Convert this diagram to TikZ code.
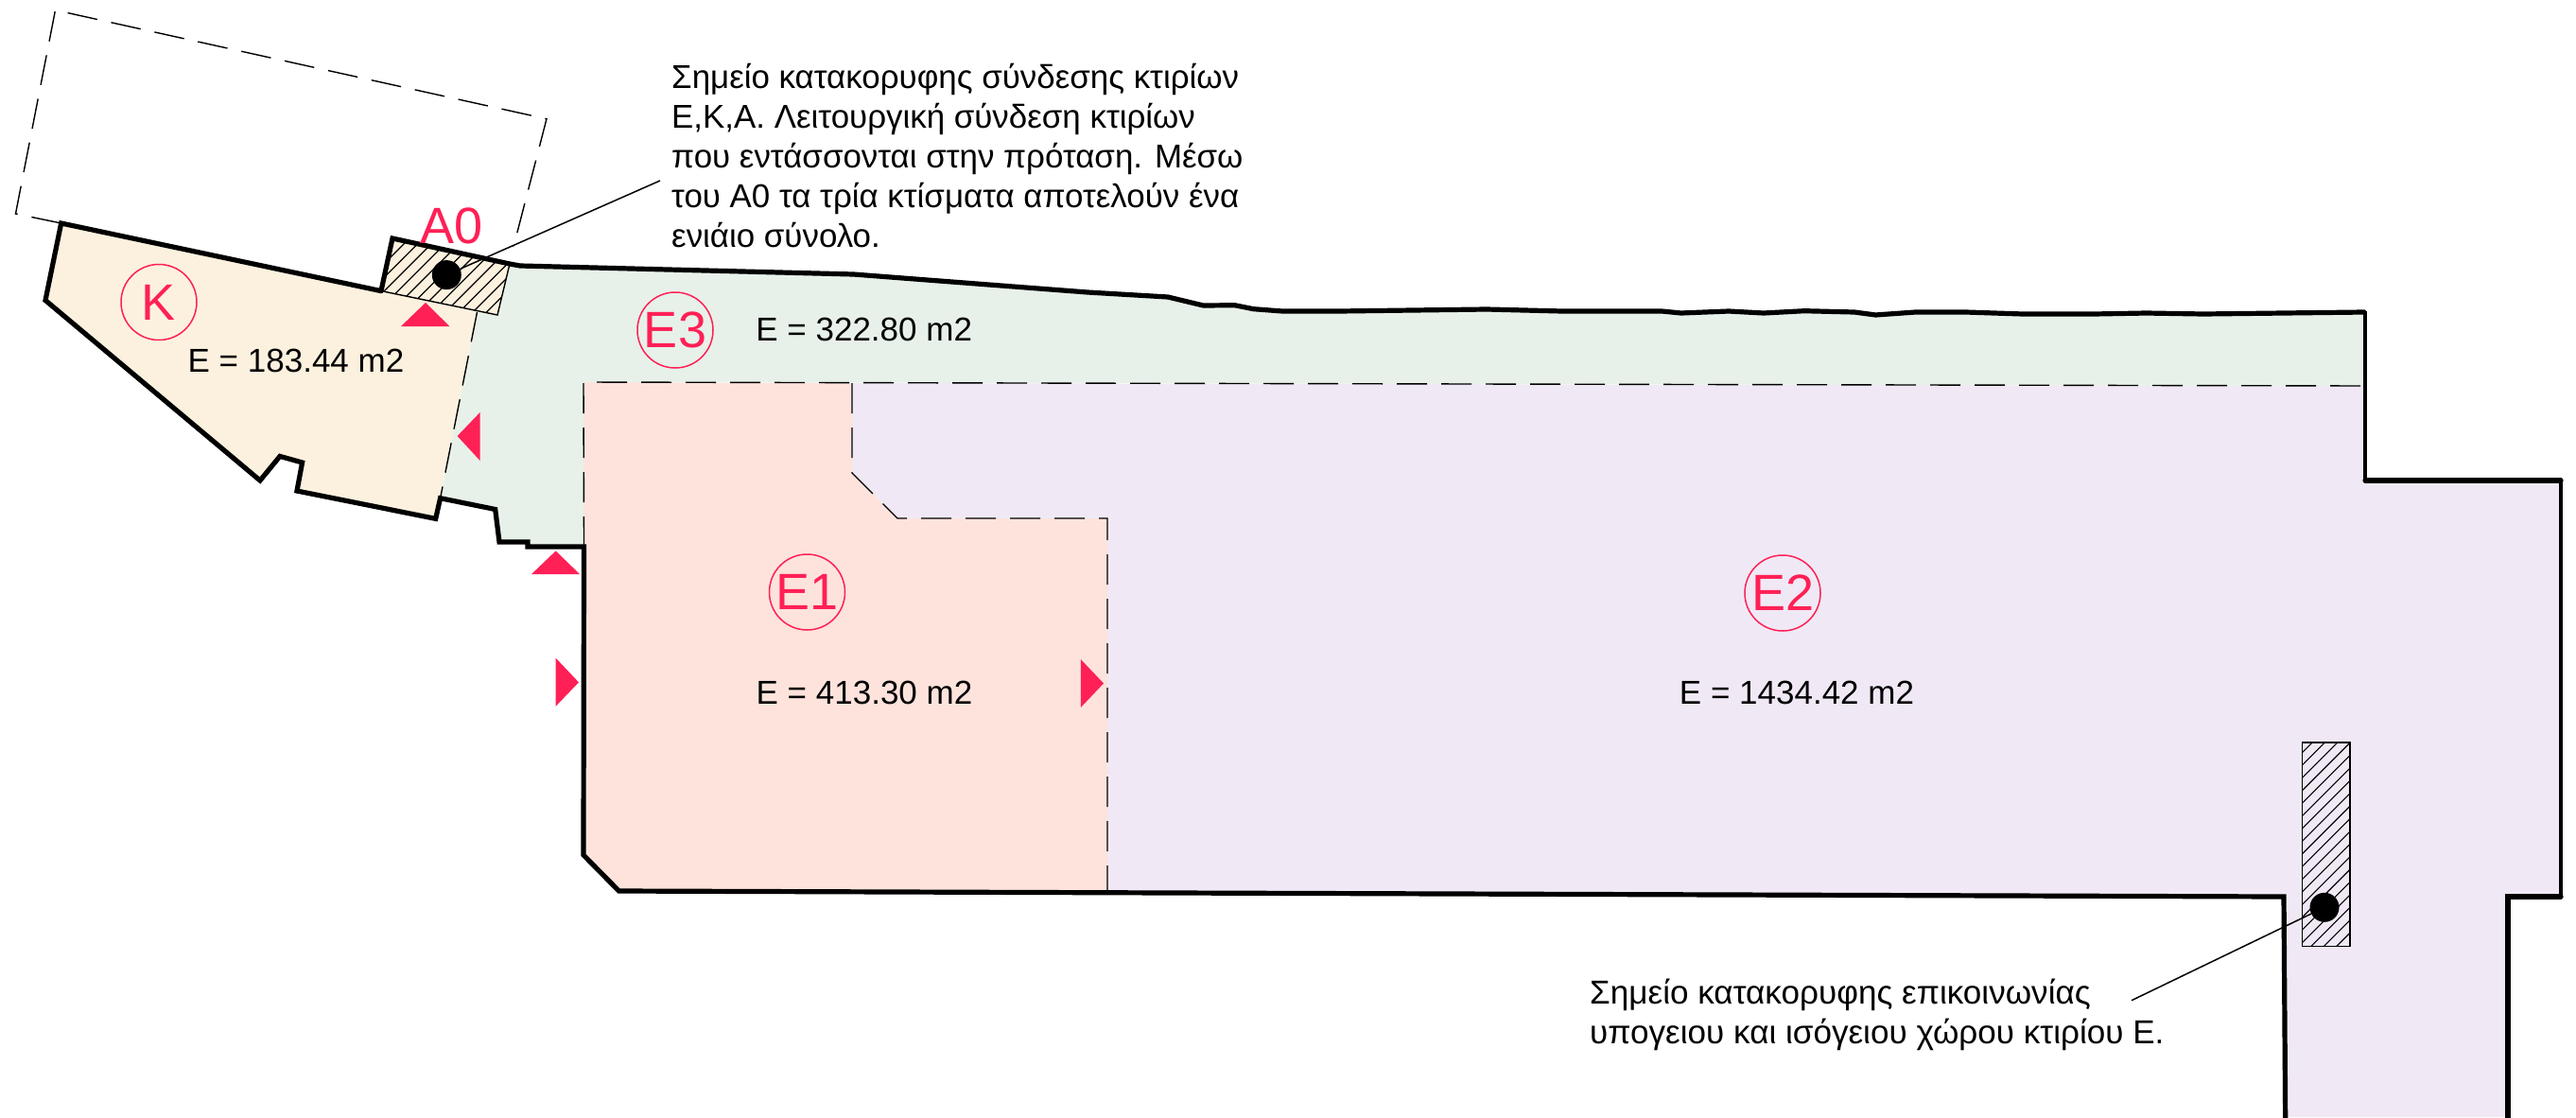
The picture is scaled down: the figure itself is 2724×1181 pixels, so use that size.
\documentclass[tikz,border=0pt]{standalone}
\usepackage{fontspec}
\setmainfont{Liberation Sans}
\definecolor{kfill}{HTML}{FCF1DF}
\definecolor{gfill}{HTML}{E7F1E9}
\definecolor{pfill}{HTML}{FDE3DC}
\definecolor{lfill}{HTML}{F0E9F5}
\definecolor{redm}{HTML}{FF2056}
\tikzset{
  wall/.style={line width=5.2pt,line join=miter,line cap=round},
  wallthin/.style={line width=3.8pt},
  dashb/.style={line width=1.4pt,dash pattern=on 32pt off 15pt},
  thinl/.style={line width=1.4pt},
  tri/.style={fill=redm,draw=none},
  zonecirc/.style={circle,draw=redm,line width=1.5pt,minimum size=80pt,inner sep=0pt,text=redm,font=\fontsize{54}{54}\selectfont},
  redlab/.style={text=redm,inner sep=0pt,font=\fontsize{54}{54}\selectfont},
  area/.style={inner sep=0pt,font=\fontsize{35}{35}\selectfont},
  note/.style={inner sep=0pt,align=left,font=\fontsize{35.1}{42}\selectfont},
  noteb/.style={inner sep=0pt,align=left,font=\fontsize{34.9}{42}\selectfont},
  blackdot/.style={circle,fill=black,minimum size=31pt,inner sep=0pt},
}
\begin{document}
\begin{tikzpicture}[x=1pt,y=-1pt]
\useasboundingbox (0,0) rectangle (2724,1181);
% fills
\fill[lfill] (901,405) -- (2501,408) -- (2501,508) -- (2708,508) -- (2708,948) -- (2652,948) -- (2652,1181) -- (2416,1181) -- (2415,948) -- (1171,942) -- (1171,548) -- (949,548) -- (901,500) -- cycle;
\fill[pfill] (617,404) -- (901,405) -- (901,500) -- (949,548) -- (1171,548) -- (1171,942) -- (654.5,942) -- (617,904) -- cycle;
\fill[gfill] (504.5,330) -- (526,333) -- (539,279) -- (550,281) -- (902.5,290) -- (1150,309) -- (1235,314) -- (1272.5,323) -- (1305.6,322.7) -- (1325.7,326.7) -- (1356,329) -- (2500,330) -- (2501,408) -- (617,404) -- (617,578) -- (558,578) -- (558,573) -- (528,573) -- (523.7,538.5) -- (465.6,526.7) -- cycle;
\fill[kfill] (64.7,236) -- (403,307.6) -- (526,333) -- (504.5,330) -- (465.6,526.7) -- (460.7,548.4) -- (314,519) -- (319.6,489) -- (296,482.4) -- (275,508) -- (48,317.5) -- cycle;
% A0 hatched
\fill[kfill] (415,252) -- (539,279) -- (526,333) -- (403,307.6) -- cycle;
\begin{scope}
\clip (415,252) -- (539,279) -- (526,333) -- (403,307.6) -- cycle;
\foreach \k in {-7,...,12} \draw[line width=1.1pt] ({403+\k*14.5},340) -- ++(100,-100);
\end{scope}
\draw[thinl] (415,252) -- (539,279) -- (526,333) -- (403,307.6) -- cycle;
% stair hatch
\fill[lfill] (2434.3,785) rectangle (2485,1000.7);
\begin{scope}
\clip (2434.3,785) rectangle (2485,1000.7);
\foreach \k in {0,...,20} \draw[line width=1.1pt] (2430,{800+\k*13.4}) -- ++(60,-60);
\end{scope}
\draw[thinl] (2434.3,785) rectangle (2485,1000.7);
% dashed
\draw[dashb] (64.7,236) -- (16.5,226) -- (58.5,10.7) -- (578,125.7) -- (543,261);
\draw[dashb] (504.5,330) -- (465.6,526.7);
\draw[dashb] (617.5,578) -- (617,404) -- (2501,408);
\draw[dashb] (901,405) -- (901,500) -- (949,548) -- (1171,548) -- (1171,942);
% walls
\draw[wall] (403,307.6) -- (64.7,236) -- (48,317.5) -- (275,508) -- (296,482.4) -- (319.6,489) -- (314,519) -- (460.7,548.4) -- (465.6,526.7) -- (523.7,538.5) -- (528,573) -- (558,573) -- (558,578) -- (617.5,578) -- (617,904) -- (654.5,942) -- (2415,948) -- (2416.7,1185);
\draw[wall] (403,307.6) -- (415,252) -- (539,279) -- (550,281) -- (902.5,290) -- (1150,309) -- (1235,314) -- (1272.5,323) -- (1305.6,322.7) -- (1325.7,326.7) -- (1356,329) -- (1416,329) -- (1572,327) -- (1652,329) -- (1757.4,329) -- (1777.5,331) -- (1828,329) -- (1865,331) -- (1908,328.7) -- (1961,330) -- (1983.3,333) -- (2025.5,330) -- (2078.7,330) -- (2139,332) -- (2214,332) -- (2269.5,331) -- (2330,332) -- (2500,330);
\draw[wallthin] (2501,329) -- (2501,508);
\draw[wall] (2501,508) -- (2708,508);
\draw[wallthin] (2708,506) -- (2708,948);
\draw[wall] (2708,948) -- (2652,948) -- (2652,1185);
% triangles
\fill[tri] (450,320) -- (424,345) -- (475.4,345) -- cycle;
\fill[tri] (483.6,461) -- (507.6,436) -- (507.6,487) -- cycle;
\fill[tri] (587.7,582.5) -- (562,607) -- (613,607) -- cycle;
\fill[tri] (612,721.4) -- (587.7,695.7) -- (587.7,746.6) -- cycle;
\fill[tri] (1167,722.5) -- (1142.8,697) -- (1142.8,748) -- cycle;
% dots and leaders
\node[blackdot] (dotA) at (472.3,290.6) {};
\node[blackdot] (dotB) at (2458,959.3) {};
\coordinate (leadA) at (698,191);
\coordinate (leadB) at (2254,1057.7);
\draw[line width=1.5pt] (dotA) -- (leadA);
\draw[line width=1.5pt] (dotB) -- (leadB);
% zone labels
\node[zonecirc] (K) at (168,319.5) {K};
\node[zonecirc] (E3) at (714,349) {E3};
\node[zonecirc] (E1) at (853.5,626) {E1};
\node[zonecirc] (E2) at (1885,627) {E2};
\node[redlab] (A0) at (478,238.5) {A0};
\node[area] (aK) at (313,381.5) {E = 183.44 m2};
\node[area] (aE3) at (913.7,348) {E = 322.80 m2};
\node[area] (aE1) at (914,732.5) {E = 413.30 m2};
\node[area] (aE2) at (1900,732.5) {E = 1434.42 m2};
\node[noteb,anchor=north west] (n1) at (710,67) {Σημείο κατακορυφης σύνδεσης κτιρίων\\Ε,Κ,Α. Λειτουργική σύνδεση κτιρίων\\που εντάσσονται στην πρόταση. Μέσω\\του Α0 τα τρία κτίσματα αποτελούν ένα\\ενιάιο σύνολο.};
\node[note,anchor=north west] (n2) at (1681,1035) {Σημείο κατακορυφης επικοινωνίας\\υπογειου και ισόγειου χώρου κτιρίου Ε.};
\end{tikzpicture}
\end{document}
